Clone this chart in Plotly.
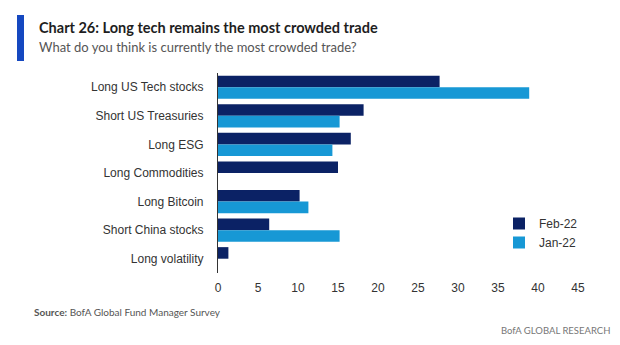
import plotly.graph_objects as go

# Survey categories (top to bottom) and share of respondents (%)
categories = [
    "Long US Tech stocks",
    "Short US Treasuries",
    "Long ESG",
    "Long Commodities",
    "Long Bitcoin",
    "Short China stocks",
    "Long volatility",
]
feb_22 = [27.7, 18.2, 16.6, 15.0, 10.2, 6.4, 1.3]
jan_22 = [38.9, 15.2, 14.3, None, 11.3, 15.2, None]

x_ticks = [0, 5, 10, 15, 20, 25, 30, 35, 40, 45]

NAVY = "#0b2265"
SKY = "#1798d5"
BRAND_BLUE = "#1548c0"
CHART_FONT = "Liberation Sans, Arial, sans-serif"
HEAD_FONT = "Lato, Open Sans, sans-serif"

W, H = 620, 345
ML, MR, MT, MB = 218, 42, 73, 72
PW, PH = W - ML - MR, H - MT - MB


def px(x):
    return (x - ML) / PW


def py(y):
    return (H - MB - y) / PH


fig = go.Figure()
fig.add_trace(go.Bar(
    y=categories, x=feb_22, name="Feb-22", orientation="h",
    marker=dict(color=NAVY, line=dict(width=0)),
))
fig.add_trace(go.Bar(
    y=categories, x=jan_22, name="Jan-22", orientation="h",
    marker=dict(color=SKY, line=dict(width=0)),
))

fig.update_layout(
    width=W, height=H,
    margin=dict(l=ML, r=MR, t=MT, b=MB),
    paper_bgcolor="white", plot_bgcolor="white",
    barmode="group", bargap=0.19, bargroupgap=0,
    font=dict(family=CHART_FONT, size=12, color="#333333"),
    legend=dict(
        x=px(499), y=py(209), xanchor="left", yanchor="top",
        font=dict(size=12, color="#333333"),
        itemwidth=30, tracegroupgap=2, bgcolor="rgba(0,0,0,0)",
    ),
    showlegend=True,
)

fig.update_xaxes(
    range=[0, 45], tickvals=x_ticks, showgrid=False, zeroline=False,
    showline=False, ticks="", ticklabelstandoff=6,
    tickfont=dict(size=12, color="#333333"), fixedrange=True,
)
fig.update_yaxes(
    autorange="reversed", showgrid=False, zeroline=False,
    showline=True, linecolor="#333333", linewidth=1.2,
    ticks="", ticklabelstandoff=11,
    tickfont=dict(size=12, color="#333333"), fixedrange=True,
)

# Brand accent bar next to the headline
fig.add_shape(
    type="rect", xref="paper", yref="paper",
    x0=px(17), x1=px(24), y0=py(61), y1=py(15),
    fillcolor=BRAND_BLUE, line=dict(width=0),
)

annotations = [
    dict(text="<b>Chart 26: Long tech remains the most crowded trade</b>",
         x=px(37), y=py(27), font=dict(family=HEAD_FONT, size=14.5, color="#1e1e1e")),
    dict(text="What do you think is currently the most crowded trade?",
         x=px(37), y=py(47), font=dict(family=HEAD_FONT, size=13, color="#555555")),
    dict(text="<b>Source:</b> BofA Global Fund Manager Survey",
         x=px(32), y=py(312), font=dict(family=HEAD_FONT, size=10, color="#555555")),
]
for a in annotations:
    fig.add_annotation(xref="paper", yref="paper", xanchor="left", yanchor="middle",
                       showarrow=False, **a)
fig.add_annotation(
    text="BofA GLOBAL RESEARCH", xref="paper", yref="paper",
    x=px(612), y=py(330), xanchor="right", yanchor="middle", showarrow=False,
    font=dict(family=HEAD_FONT, size=9.5, color="#777777"),
)

fig.write_html("out.html")
